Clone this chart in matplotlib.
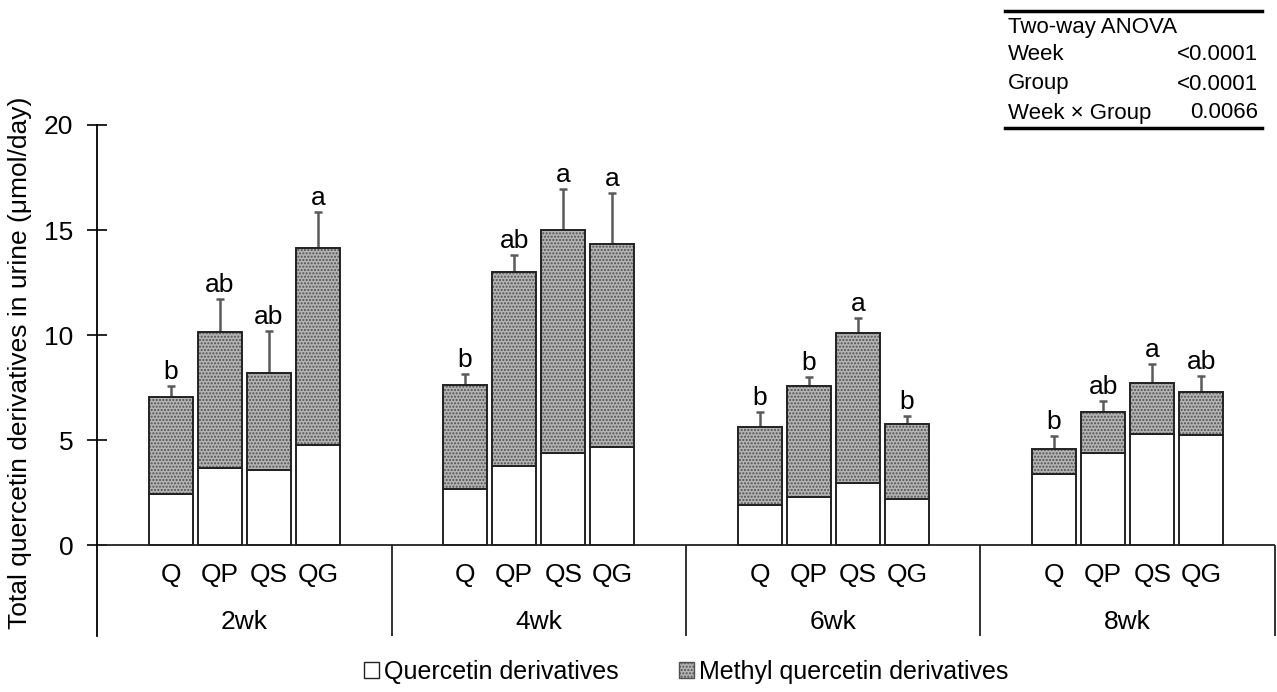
import numpy as np
import matplotlib
matplotlib.use("Agg")
import matplotlib.pyplot as plt
from matplotlib.lines import Line2D
from matplotlib.patches import Patch

plt.rcParams['font.family'] = ['Liberation Sans', 'DejaVu Sans']
plt.rcParams['hatch.linewidth'] = 1.0

weeks = ['2wk', '4wk', '6wk', '8wk']
groups = ['Q', 'QP', 'QS', 'QG']
# Quercetin derivatives (lower segment), per week x group
quercetin = [
    [2.45, 3.68, 3.56, 4.76],
    [2.68, 3.76, 4.37, 4.68],
    [1.90, 2.29, 2.97, 2.17],
    [3.38, 4.37, 5.27, 5.24],
]
# Total (top of stacked bar)
total = [
    [7.06, 10.13, 8.18, 14.13],
    [7.62, 12.98, 15.00, 14.33],
    [5.60, 7.57, 10.08, 5.78],
    [4.56, 6.32, 7.70, 7.27],
]
# Error bar tops
err_top = [
    [7.56, 11.70, 10.19, 15.87],
    [8.14, 13.79, 16.94, 16.75],
    [6.32, 8.00, 10.81, 6.14],
    [5.19, 6.84, 8.63, 8.06],
]
letters = [
    ['b', 'ab', 'ab', 'a'],
    ['b', 'ab', 'a', 'a'],
    ['b', 'b', 'a', 'b'],
    ['b', 'ab', 'a', 'ab'],
]
anova_rows = ['Week', 'Group', 'Week \u00d7 Group']
anova_vals = ['<0.0001', '<0.0001', '0.0066']

FS = 19
fig = plt.figure(figsize=(12.77, 6.92), dpi=100)
ax = fig.add_axes([97/1277, 1-636/692, (1275-97)/1277, (636-125)/692])

q = np.array(quercetin)
t = np.array(total)
e = np.array(err_top)
m = t - q
x = np.array([[6*g + 1.5 + i for i in range(4)] for g in range(4)])
W = 0.9

xf, qf, mf, tf, ef = x.ravel(), q.ravel(), m.ravel(), t.ravel(), e.ravel()

ax.errorbar(xf, tf, yerr=[np.zeros_like(tf), ef - tf], fmt='none',
            ecolor='#5a5a5a', elinewidth=1.8, capsize=3, capthick=1.8, zorder=1)
ax.bar(xf, qf, W, color='white', edgecolor='#222222', linewidth=1.4, zorder=2)
ax.bar(xf, mf, W, bottom=qf, color='#b4b4b4', edgecolor='#505050',
       hatch='.....', linewidth=0, zorder=2)
ax.bar(xf, mf, W, bottom=qf, fill=False, edgecolor='#222222', linewidth=1.4, zorder=3)

for xi, ei, lab in zip(xf, ef, np.array(letters).ravel()):
    ax.annotate(lab, (xi, ei), xytext=(0, 5), textcoords='offset points',
                ha='center', va='baseline', fontsize=FS)

ax.set_xlim(0, 24)
ax.set_ylim(-4.33, 20)
ax.set_yticks([0, 5, 10, 15, 20])
ax.tick_params(axis='y', direction='inout', length=14, width=1.2, labelsize=FS, pad=10)
ax.set_xticks([])
for s in ['top', 'right', 'bottom']:
    ax.spines[s].set_visible(False)
ax.spines['left'].set_linewidth(1.3)
ax.axhline(0, color='#222222', lw=1.3)
ax.vlines([6, 12, 18, 24], -4.33, 0, color='#222222', lw=1.3, clip_on=False)

for g, wk in enumerate(weeks):
    for i, gr in enumerate(groups):
        ax.text(x[g][i], -1.43, gr, ha='center', va='center', fontsize=FS)
    ax.text(6*g + 3, -3.67, wk, ha='center', va='center', fontsize=FS)

fig.text(20/1277, 1-363/692, 'Total quercetin derivatives in urine (\u03bcmol/day)',
         rotation=90, ha='center', va='center', fontsize=FS)

# ANOVA table
x0, x1 = 1005/1277, 1262/1277
fig.add_artist(Line2D([x0, x1], [1-11/692]*2, color='black', lw=2.5))
fig.add_artist(Line2D([x0, x1], [1-128/692]*2, color='black', lw=2.5))
fig.text(1008/1277, 1-27/692, 'Two-way ANOVA', ha='left', va='center', fontsize=16)
for k, (r, v) in enumerate(zip(anova_rows, anova_vals)):
    yy = 1 - (55 + 29*k)/692
    fig.text(1008/1277, yy, r, ha='left', va='center', fontsize=16)
    fig.text(1258/1277, yy, v, ha='right', va='center', fontsize=16)

handles = [Patch(facecolor='white', edgecolor='#222222', linewidth=1.0),
           Patch(facecolor='#b4b4b4', edgecolor='#505050', hatch='.....', linewidth=1.0)]
fig.legend(handles, ['Quercetin derivatives', 'Methyl quercetin derivatives'],
           loc='center', bbox_to_anchor=(686/1277, 1-672/692), ncol=2, frameon=False,
           fontsize=18, handlelength=0.6, handleheight=0.6, handletextpad=0.2,
           columnspacing=2.4)

fig.savefig('out.png', dpi=100)
